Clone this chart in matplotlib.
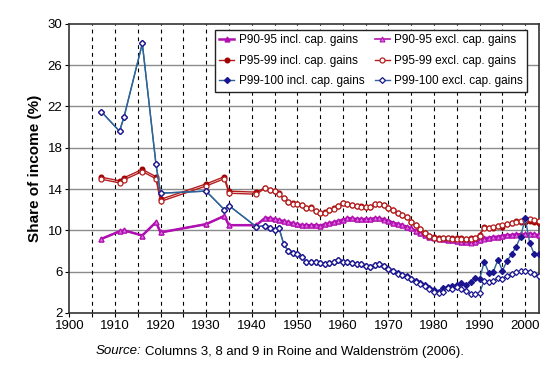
import matplotlib
matplotlib.use("Agg")
import matplotlib.pyplot as plt
import numpy as np

plt.rcParams['font.family'] = ['Liberation Sans', 'DejaVu Sans']

years_early = [1907, 1911, 1912, 1916, 1919, 1920, 1930, 1934, 1935, 1941]
years_annual = list(range(1943, 2004))
years = years_early + years_annual

p90_95_incl = [9.17, 9.9, 10.0, 9.5, 10.8, 9.8, 10.6, 11.4, 10.5, 10.5,
               11.23, 11.17, 11.1, 11.0, 10.9, 10.78, 10.69, 10.59, 10.5, 10.5,
               10.5, 10.5, 10.46, 10.59, 10.69, 10.78, 10.9, 11.05, 11.17, 11.17,
               11.1, 11.1, 11.1, 11.1, 11.17, 11.17, 11.07, 10.94, 10.75, 10.62,
               10.52, 10.36, 10.2, 9.97, 9.72, 9.55, 9.39, 9.33, 9.23, 9.2,
               9.1, 9.05, 8.98, 8.91, 8.91, 8.85, 8.91, 9.1, 9.23, 9.29,
               9.36, 9.39, 9.49, 9.55, 9.55, 9.62, 9.62, 9.62, 9.68, 9.62, 9.55]
p90_95_excl = [9.17, 9.9, 10.0, 9.5, 10.8, 9.8, 10.6, 11.4, 10.5, 10.5,
               11.2, 11.15, 11.08, 11.0, 10.9, 10.78, 10.69, 10.59, 10.5, 10.5,
               10.5, 10.5, 10.46, 10.59, 10.69, 10.78, 10.9, 11.05, 11.15, 11.15,
               11.1, 11.1, 11.1, 11.1, 11.15, 11.15, 11.05, 10.92, 10.75, 10.62,
               10.52, 10.36, 10.2, 9.97, 9.72, 9.55, 9.39, 9.3, 9.2, 9.15,
               9.08, 9.02, 8.95, 8.88, 8.88, 8.82, 8.88, 9.05, 9.2, 9.26,
               9.33, 9.36, 9.46, 9.52, 9.52, 9.58, 9.6, 9.6, 9.65, 9.6, 9.52]

p95_99_incl = [15.15, 14.8, 15.1, 15.9, 15.2, 13.0, 14.5, 15.2, 13.8, 13.7,
               14.14, 13.94, 13.82, 13.59, 13.11, 12.78, 12.62, 12.56, 12.46, 12.14,
               12.24, 11.88, 11.66, 11.75, 11.98, 12.14, 12.4, 12.69, 12.59, 12.46,
               12.4, 12.33, 12.24, 12.3, 12.55, 12.6, 12.46, 12.2, 11.98, 11.72,
               11.49, 11.27, 10.85, 10.52, 10.1, 9.72, 9.46, 9.33, 9.23, 9.25,
               9.25, 9.23, 9.23, 9.25, 9.2, 9.25, 9.3, 9.55, 10.36, 10.2,
               10.2, 10.46, 10.36, 10.59, 10.69, 10.91, 10.78, 10.85, 10.91, 10.78, 10.7]
p95_99_excl = [14.95, 14.6, 14.9, 15.7, 15.0, 12.8, 14.3, 15.0, 13.6, 13.5,
               14.1, 13.9, 13.8, 13.55, 13.1, 12.75, 12.6, 12.55, 12.45, 12.14,
               12.2, 11.88, 11.66, 11.72, 11.95, 12.1, 12.4, 12.66, 12.56, 12.46,
               12.4, 12.3, 12.24, 12.3, 12.52, 12.56, 12.45, 12.2, 11.95, 11.7,
               11.47, 11.25, 10.85, 10.5, 10.1, 9.7, 9.45, 9.3, 9.2, 9.22,
               9.22, 9.2, 9.2, 9.2, 9.18, 9.2, 9.25, 9.5, 10.26, 10.2,
               10.3, 10.46, 10.5, 10.59, 10.69, 10.85, 10.9, 11.0, 11.1, 11.05, 10.95]

p99_100_incl = [21.5, 19.6, 21.0, 28.1, 16.4, 13.6, 13.8, 12.0, 12.4, 10.35,
                10.46, 10.2, 10.0, 10.2, 8.7, 8.0, 7.78, 7.71, 7.45, 6.9,
                6.9, 6.9, 6.81, 6.72, 6.87, 6.9, 7.13, 6.97, 6.9, 6.81,
                6.72, 6.72, 6.58, 6.48, 6.62, 6.72, 6.5, 6.3, 6.1, 5.88,
                5.72, 5.56, 5.3, 5.1, 4.9, 4.7, 4.39, 4.22, 4.06, 4.39,
                4.55, 4.61, 4.71, 4.87, 4.71, 5.03, 5.36, 5.26, 6.97, 5.9,
                6.0, 7.13, 6.1, 7.03, 7.68, 8.42, 9.39, 11.17, 8.75, 7.68, 7.68]
p99_100_excl = [21.5, 19.6, 21.0, 28.1, 16.4, 13.6, 13.8, 12.0, 12.4, 10.35,
                10.46, 10.2, 10.0, 10.2, 8.7, 8.0, 7.78, 7.71, 7.45, 6.9,
                6.9, 6.9, 6.81, 6.72, 6.87, 6.9, 7.13, 6.97, 6.9, 6.81,
                6.72, 6.72, 6.58, 6.48, 6.62, 6.72, 6.5, 6.3, 6.05, 5.82,
                5.68, 5.51, 5.26, 5.03, 4.81, 4.6, 4.29, 4.06, 3.96, 4.06,
                4.39, 4.3, 4.49, 4.29, 4.16, 3.81, 3.84, 3.96, 5.13, 5.03,
                5.13, 5.36, 5.3, 5.6, 5.8, 5.94, 6.05, 6.07, 6.01, 5.8, 5.61]

labels = ["P90-95 incl. cap. gains", "P90-95 excl. cap. gains",
          "P95-99 incl. cap. gains", "P95-99 excl. cap. gains",
          "P99-100 incl. cap. gains", "P99-100 excl. cap. gains"]
x_ticks = list(range(1900, 2001, 10))
y_ticks = list(range(2, 31, 4))

fig = plt.figure(figsize=(5.55, 3.73), dpi=100)
ax = fig.add_axes([0.125, 0.161, 0.846, 0.775])

mag = '#B010B0'
red_line = '#B41E1E'
red_mk = '#A00000'
blue_line = '#2E6496'
navy = '#1A1490'

h = {}
h[0], = ax.plot(years, p90_95_incl, color=mag, lw=1.8, marker='^', ms=3.5,
                mfc=mag, mec=mag, label=labels[0], zorder=3)
h[1], = ax.plot(years, p90_95_excl, color=mag, lw=1.2, marker='^', ms=3.5,
                mfc='#E070E0', mec=mag, mew=0.8, label=labels[1], zorder=3.1)
h[2], = ax.plot(years, p95_99_incl, color=red_line, lw=1.0, marker='o', ms=3.3,
                mfc=red_mk, mec=red_mk, label=labels[2], zorder=4)
h[3], = ax.plot(years, p95_99_excl, color=red_line, lw=1.0, marker='o', ms=3.6,
                mfc='white', mec=red_line, mew=0.9, label=labels[3], zorder=4.1)
h[4], = ax.plot(years, p99_100_incl, color=blue_line, lw=1.0, marker='D', ms=3.0,
                mfc=navy, mec=navy, label=labels[4], zorder=5)
h[5], = ax.plot(years, p99_100_excl, color=blue_line, lw=1.0, marker='D', ms=3.0,
                mfc='white', mec=navy, mew=0.9, label=labels[5], zorder=5.1)

ax.set_xlim(1900, 2003)
ax.set_ylim(2, 30)
ax.set_xticks(x_ticks)
ax.set_xticks(list(range(1905, 2001, 10)), minor=True)
ax.set_yticks(y_ticks)
ax.tick_params(axis='both', which='both', direction='out', length=3, width=0.8,
               labelsize=9.5, pad=2)

for yv in y_ticks[1:-1]:
    ax.axhline(yv, color='#8C8C8C', lw=1.0, zorder=1)
for xv in range(1905, 2001, 5):
    ax.axvline(xv, color='black', lw=0.8, ls=(0, (3.5, 3.5)), zorder=1)

for s in ax.spines.values():
    s.set_color('#333333')
    s.set_linewidth(1.2)

ax.set_ylabel("Share of income (%)", fontsize=11, fontweight='bold', labelpad=4)

order = [0, 2, 4, 1, 3, 5]
leg = ax.legend([h[i] for i in order], [labels[i] for i in order], ncol=2,
                loc='upper right', bbox_to_anchor=(0.975, 0.98), borderaxespad=0,
                fontsize=8.5, frameon=True, fancybox=False, framealpha=1,
                edgecolor='#222222', handlelength=1.3, handletextpad=0.35,
                columnspacing=0.9, labelspacing=0.75, borderpad=0.35)
leg.get_frame().set_linewidth(1.0)
leg.set_zorder(10)

# caption: italic "Source:" followed by upright text, centred under the plot
cap_y = 1 - 351.5 / 373
target_w, center_x = 368.0, 280.0
fs = 9.5
gap = 3.5
renderer = fig.canvas.get_renderer()
t1 = fig.text(0, cap_y, "Source:", fontsize=fs, style='italic', ha='left', va='center')
t2 = fig.text(0, cap_y, "Columns 3, 8 and 9 in Roine and Waldenström (2006).",
              fontsize=fs, ha='left', va='center')
w1 = t1.get_window_extent(renderer).width
w2 = t2.get_window_extent(renderer).width
scale = (target_w - gap) / (w1 + w2)
fs2 = fs * scale
t1.set_fontsize(fs2)
t2.set_fontsize(fs2)
w1 *= scale
w2 *= scale
x0 = center_x - (w1 + gap + w2) / 2
W = fig.get_figwidth() * fig.dpi
t1.set_x(x0 / W)
t2.set_x((x0 + w1 + gap) / W)

fig.savefig("out.png", dpi=100)
